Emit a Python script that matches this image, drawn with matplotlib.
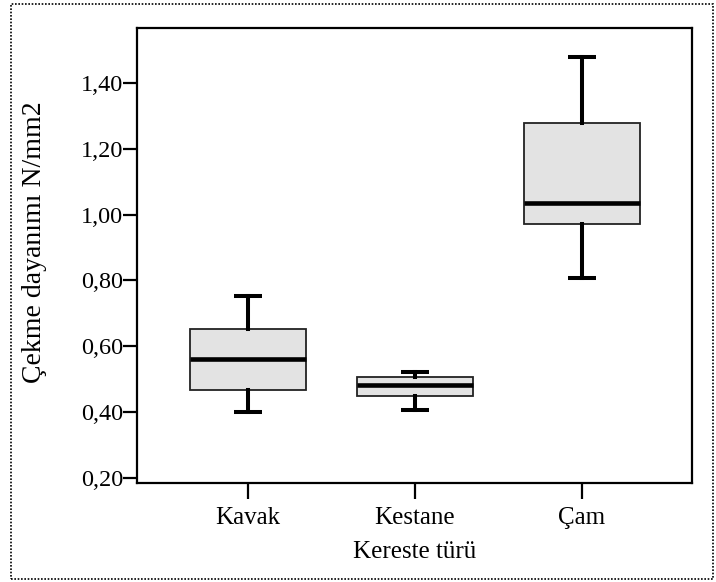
import matplotlib.pyplot as plt
from matplotlib.patches import Rectangle

# ---------------------------------------------------------------------------
# Data
# ---------------------------------------------------------------------------
categories = ["Kavak", "Kestane", "Çam"]
whisker_low = [0.399, 0.407, 0.806]
q1 = [0.467, 0.450, 0.971]
median = [0.562, 0.483, 1.035]
q3 = [0.651, 0.507, 1.277]
whisker_high = [0.753, 0.522, 1.480]
y_ticks = [0.20, 0.40, 0.60, 0.80, 1.00, 1.20, 1.40]

plt.rcParams["font.family"] = ["Liberation Serif", "DejaVu Serif"]

fig = plt.figure(figsize=(7.16, 5.82), dpi=100)
ax = fig.add_axes([0.1913, 0.1701, 0.7752, 0.7818])

stats = [
    dict(label=c, whislo=lo, q1=a, med=m, q3=b, whishi=hi, fliers=[])
    for c, lo, a, m, b, hi in zip(categories, whisker_low, q1, median, q3, whisker_high)
]

ax.bxp(
    stats,
    positions=[1, 2, 3],
    widths=0.69,
    patch_artist=True,
    showfliers=False,
    capwidths=0.17,
    boxprops=dict(facecolor="#e3e3e3", edgecolor="#222222", linewidth=1.3),
    medianprops=dict(color="black", linewidth=3.3, solid_capstyle="butt"),
    whiskerprops=dict(color="black", linewidth=2.9),
    capprops=dict(color="black", linewidth=2.9, solid_capstyle="butt"),
)

ax.set_xlim(0.335, 3.659)
ax.set_ylim(0.1842, 1.567)
ax.set_yticks(y_ticks)
ax.set_yticklabels([f"{v:.2f}".replace(".", ",") for v in y_ticks])
ax.set_xticks([1, 2, 3])
ax.set_xticklabels(categories)

for s in ax.spines.values():
    s.set_linewidth(1.6)
ax.tick_params(axis="y", length=10, width=1.6, pad=0, labelsize=17.5)
ax.tick_params(axis="x", length=11.5, width=1.6, pad=6, labelsize=18)

ax.set_ylabel("Çekme dayanımı N/mm2", fontsize=20)
ax.yaxis.set_label_coords(-0.162, 0.53)
ax.set_xlabel("Kereste türü", fontsize=18)
ax.xaxis.set_label_coords(0.5, -0.127)

# dotted frame round the whole figure
fig.patches.append(Rectangle((11 / 716, 3 / 582), 702 / 716, 575 / 582,
                             transform=fig.transFigure, fill=False,
                             edgecolor="black", linewidth=1.2, linestyle=(0, (1, 1))))

fig.savefig("out.png", dpi=100)
